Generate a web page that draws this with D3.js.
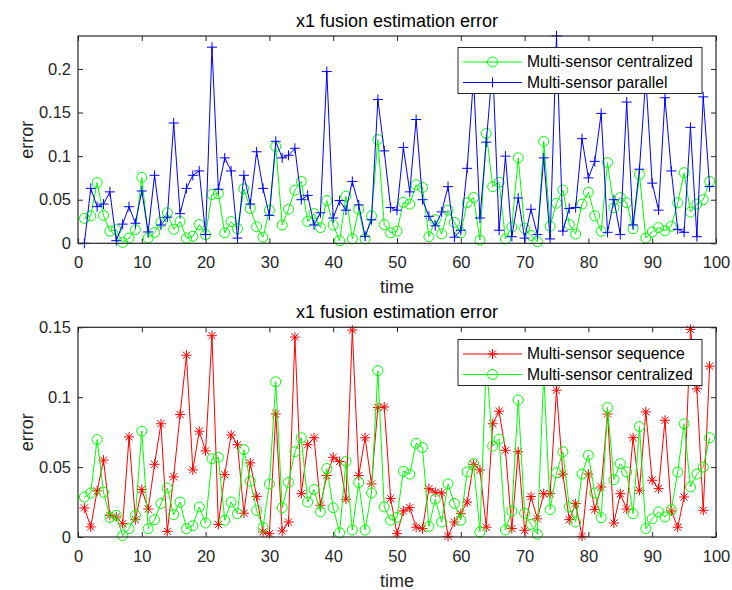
<!DOCTYPE html>
<html><head><meta charset="utf-8">
<script src="https://cdn.jsdelivr.net/npm/d3@7"></script>
<style>
body{margin:0;background:#fff;}
svg{display:block;font-family:"Liberation Sans",Arial,Helvetica,sans-serif;}
</style></head><body>
<svg id="c" width="732" height="590"></svg>
<script>
// time index 1..99
const timeSteps = d3.range(1, 100);
const centralized = [0.0286,0.0315,0.0697,0.032,0.014,0.0155,0.001,0.006,0.0155,0.0757,
0.006,0.0124,0.024,0.035,0.016,0.025,0.006,0.008,0.0215,0.010,
0.056,0.057,0.012,0.025,0.0167,0.0625,0.040,0.019,0.007,0.038,
0.111,0.021,0.039,0.061,0.071,0.025,0.034,0.018,0.049,0.021,
0.003,0.054,0.005,0.039,0.005,0.0315,0.119,0.0215,0.012,0.014,
0.047,0.045,0.067,0.064,0.0076,0.027,0.0107,0.038,0.024,0.012,
0.0465,0.0525,0.0036,0.126,0.065,0.070,0.005,0.0186,0.098,0.017,
0.009,0.002,0.117,0.0196,0.046,0.061,0.0215,0.0107,0.045,0.0585,
0.0315,0.0138,0.0926,0.041,0.0525,0.0465,0.0167,0.079,0.006,0.013,
0.018,0.0143,0.0196,0.0465,0.081,0.0358,0.045,0.050,0.071];
const parallel = [0,0.063,0.042,0.045,0.059,0.003,0.022,0.042,0.023,0.060,
0.013,0.078,0.021,0.030,0.138,0.034,0.063,0.078,0.083,0.010,
0.225,0.062,0.098,0.083,0.006,0.078,0.045,0.105,0.063,0.032,
0.117,0.098,0.101,0.109,0.050,0.055,0.021,0.035,0.197,0.029,
0.049,0.038,0.071,0.044,0.008,0.027,0.165,0.106,0.041,0.038,
0.110,0.059,0.142,0.050,0.031,0.020,0.036,0.065,0.007,0.015,
0.086,0.19,0.029,0.116,0.205,0.015,0.100,0.0076,0.052,0.006,
0.039,0.010,0.098,0.005,0.238,0.014,0.040,0.041,0.120,0.075,
0.094,0.149,0.0126,0.050,0.010,0.162,0.021,0.085,0.19,0.069,
0.038,0.167,0.083,0.016,0.0126,0.133,0.0076,0.168,0.065];
const sequence = [0.0208,0.0072,0.033,0.055,0.0155,0.0143,0.0095,0.0716,0.0124,0.034,
0.020,0.052,0.081,0.004,0.043,0.0876,0.130,0.048,0.0757,0.0616,
0.144,0.009,0.0446,0.073,0.066,0.017,0.053,0.029,0.0036,0.0024,
0.088,0.0043,0.0107,0.143,0.031,0.066,0.071,0.0227,0.044,0.057,
0.054,0.027,0.148,0.044,0.071,0.038,0.0926,0.093,0.0275,0.0024,
0.0186,0.021,0.007,0.006,0.0346,0.032,0.0315,0.0005,0.0107,0.0167,
0.025,0.052,0.048,0.007,0.081,0.090,0.062,0.006,0.061,0.0048,
0.029,0.013,0.031,0.031,0.105,0.045,0.0124,0.0239,0.0005,0.045,
0.0196,0.0358,0.088,0.010,0.031,0.020,0.071,0.0334,0.0895,0.0406,
0.0346,0.0835,0.0186,0.007,0.0286,0.1485,0.106,0.0191,0.1222];
const xTicks = [0,10,20,30,40,50,60,70,80,90,100];
const yTicksTop = [0,0.05,0.1,0.15,0.2];
const yTicksBottom = [0,0.05,0.1,0.15];

const svg = d3.select("#c");
const AX = "#262626";
const markers = {
  circle: null,
  plus: "M-5,0H5M0,-5V5",
  star: "M-5,0H5M0,-5V5M-3.6,-3.6L3.6,3.6M-3.6,3.6L3.6,-3.6"
};
const fmt = d => d === 0 ? "0" : String(+d.toFixed(2));

function panel(cfg){
  const {top, bottom, ymax, yTicks, series, legend, legTop} = cfg;
  const left = 78, right = 716;
  const x = d3.scaleLinear().domain([0,100]).range([left,right]);
  const y = d3.scaleLinear().domain([0,ymax]).range([bottom,top]);
  const g = svg.append("g");

  const styleAxis = sel => {
    sel.select(".domain").remove();
    sel.selectAll("line").attr("stroke", AX).attr("stroke-width", 1);
    sel.selectAll("text").attr("fill", AX).attr("font-size", "16.5px")
      .attr("font-family", '"Liberation Sans",Arial,sans-serif');
  };
  g.append("g").attr("transform",`translate(0,${bottom})`)
    .call(d3.axisBottom(x).tickValues(xTicks).tickFormat(fmt).tickSizeInner(-5).tickSizeOuter(0).tickPadding(13))
    .call(styleAxis);
  g.append("g").attr("transform",`translate(0,${top})`)
    .call(d3.axisTop(x).tickValues(xTicks).tickFormat("").tickSizeInner(-5).tickSizeOuter(0))
    .call(styleAxis);
  g.append("g").attr("transform",`translate(${left},0)`)
    .call(d3.axisLeft(y).tickValues(yTicks).tickFormat(fmt).tickSizeInner(-5).tickSizeOuter(0).tickPadding(7))
    .call(styleAxis);
  g.append("g").attr("transform",`translate(${right},0)`)
    .call(d3.axisRight(y).tickValues(yTicks).tickFormat("").tickSizeInner(-5).tickSizeOuter(0))
    .call(styleAxis);

  const line = d3.line().x((d,i)=>x(timeSteps[i])).y(d=>y(d));
  series.forEach(s => {
    g.append("path").datum(s.values).attr("d", line)
      .attr("fill","none").attr("stroke", s.color).attr("stroke-width", 1);
    const m = g.append("g");
    s.values.forEach((v,i) => {
      const cx = x(timeSteps[i]), cy = y(v);
      if (s.marker === "circle") {
        m.append("circle").attr("cx",cx).attr("cy",cy).attr("r",5)
          .attr("fill","none").attr("stroke",s.color).attr("stroke-width",1);
      } else {
        m.append("path").attr("d", markers[s.marker]).attr("transform",`translate(${cx},${cy})`)
          .attr("fill","none").attr("stroke",s.color).attr("stroke-width",1);
      }
    });
  });

  // box
  g.append("rect").attr("x",left).attr("y",top).attr("width",right-left).attr("height",bottom-top)
    .attr("fill","none").attr("stroke",AX).attr("stroke-width",1.2);

  // title & labels
  g.append("text").attr("x",(left+right)/2).attr("y",top-9).attr("text-anchor","middle")
    .attr("font-size","18px").attr("fill","#000").text("x1 fusion estimation error");
  g.append("text").attr("x",(left+right)/2).attr("y",bottom+50).attr("text-anchor","middle")
    .attr("font-size","18px").attr("fill",AX).text("time");
  g.append("text").attr("transform",`translate(33,${(top+bottom)/2}) rotate(-90)`)
    .attr("text-anchor","middle").attr("font-size","18px").attr("fill",AX).text("error");

  // legend
  const lx = 458, lw = 244, lh = 46;
  const lg = g.append("g");
  lg.append("rect").attr("x",lx).attr("y",legTop).attr("width",lw).attr("height",lh)
    .attr("fill","#fff").attr("stroke",AX).attr("stroke-width",1);
  legend.forEach((s,k) => {
    const cy = legTop + 14.5 + k*20.5;
    lg.append("line").attr("x1",lx+5).attr("x2",lx+64).attr("y1",cy).attr("y2",cy)
      .attr("stroke",s.color).attr("stroke-width",1);
    if (s.marker === "circle") {
      lg.append("circle").attr("cx",lx+34.5).attr("cy",cy).attr("r",5)
        .attr("fill","none").attr("stroke",s.color);
    } else {
      lg.append("path").attr("d",markers[s.marker]).attr("transform",`translate(${lx+34.5},${cy})`)
        .attr("fill","none").attr("stroke",s.color);
    }
    lg.append("text").attr("x",lx+69).attr("y",cy).attr("dy","0.35em")
      .attr("font-size","15.7px").attr("fill","#000").text(s.name);
  });
}

const sC = {name:"Multi-sensor centralized", values:centralized, color:"#00ff00", marker:"circle"};
const sP = {name:"Multi-sensor parallel", values:parallel, color:"#0000ff", marker:"plus"};
const sS = {name:"Multi-sensor sequence", values:sequence, color:"#ff0000", marker:"star"};

panel({top:36, bottom:243.3, ymax:0.2378, yTicks:yTicksTop, series:[sC,sP], legend:[sC,sP], legTop:47.5});
panel({top:327.3, bottom:537, ymax:0.15, yTicks:yTicksBottom, series:[sS,sC], legend:[sS,sC], legTop:339.5});
</script>
</body></html>
